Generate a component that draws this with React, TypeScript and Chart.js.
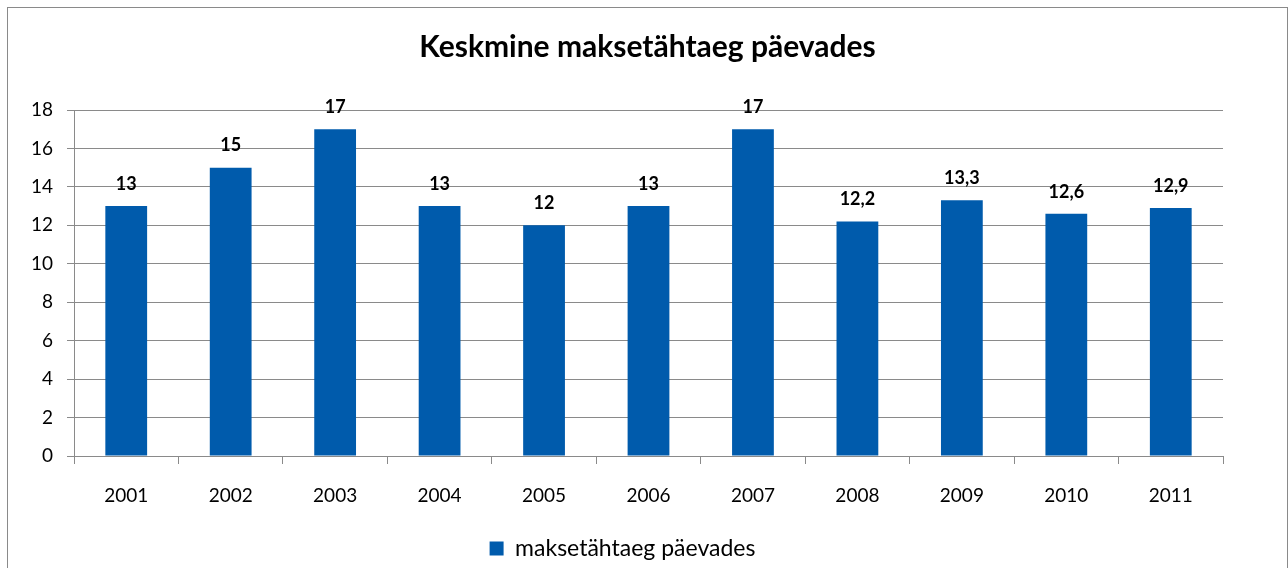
import React, { useEffect, useRef } from "react";
import { Chart, registerables } from "chart.js";

Chart.register(...registerables);

const categories = ["2001", "2002", "2003", "2004", "2005", "2006", "2007", "2008", "2009", "2010", "2011"];
const values = [13, 15, 17, 13, 12, 13, 17, 12.2, 13.3, 12.6, 12.9];
const seriesName = "maksetähtaeg päevades";
const chartTitle = "Keskmine maksetähtaeg päevades";

const FONT = "Lato, 'Open Sans', sans-serif";
const BAR = "#005BAC";
const GRID = "#8a8a8a";

const dataLabels = {
  id: "dataLabels",
  afterLayout(chart: any) {
    // centre the title over the whole canvas, as in the original
    if (chart.titleBlock) {
      chart.titleBlock.left = 0;
      chart.titleBlock.right = chart.width;
    }
  },
  afterDatasetsDraw(chart: any) {
    const ctx = chart.ctx;
    const meta = chart.getDatasetMeta(0);
    ctx.save();
    ctx.font = `bold 18px ${FONT}`;
    ctx.fillStyle = "#000";
    ctx.textAlign = "center";
    ctx.textBaseline = "middle";
    meta.data.forEach((el: any, i: number) => {
      const v = chart.data.datasets[0].data[i] as number;
      ctx.fillText(String(v).replace(".", ","), el.x, el.y - 22);
    });
    ctx.restore();
  },
};

export default function App() {
  const ref = useRef<HTMLCanvasElement | null>(null);
  useEffect(() => {
    if (!ref.current) return;
    const chart = new Chart(ref.current, {
      type: "bar",
      data: {
        labels: categories,
        datasets: [
          {
            label: seriesName,
            data: values,
            backgroundColor: BAR,
            borderWidth: 0,
            barPercentage: 0.4,
            categoryPercentage: 1,
          },
        ],
      },
      options: {
        animation: false,
        responsive: false,
        maintainAspectRatio: false,
        layout: { padding: { top: 0, left: 14, right: 64, bottom: 0 } },
        plugins: {
          title: {
            display: true,
            text: chartTitle,
            font: { family: FONT, size: 30, weight: "bold" },
            color: "#000",
            padding: { top: 21, bottom: 45 },
          },
          legend: {
            display: true,
            position: "bottom",
            labels: {
              font: { family: FONT, size: 23 },
              color: "#000",
              boxWidth: 14,
              boxHeight: 14,
              padding: 10,
            },
          },
          tooltip: { enabled: false },
        },
        scales: {
          x: {
            grid: {
              offset: true,
              drawOnChartArea: false,
              drawTicks: true,
              tickLength: 8,
              color: GRID,
            },
            border: { display: true, color: GRID, width: 1 },
            ticks: { font: { family: FONT, size: 19 }, color: "#000", padding: 20 },
            afterFit(scale: any) {
              scale.height = 71;
            },
          },
          y: {
            min: 0,
            max: 18,
            ticks: { stepSize: 2, font: { family: FONT, size: 19 }, color: "#000", padding: 14 },
            grid: { color: GRID, tickLength: 7, lineWidth: 1 },
            border: { display: true, color: GRID, width: 1 },
            afterFit(scale: any) {
              scale.width = 52;
            },
          },
        },
      },
      plugins: [dataLabels],
    });
    return () => chart.destroy();
  }, []);

  return (
    <div
      style={{
        position: "fixed",
        left: 7,
        top: 7,
        width: 1279,
        height: 562,
        border: "1px solid #8a8a8a",
        background: "#fff",
      }}
    >
      <canvas ref={ref} width={1279} height={562} style={{ display: "block" }} />
    </div>
  );
}
